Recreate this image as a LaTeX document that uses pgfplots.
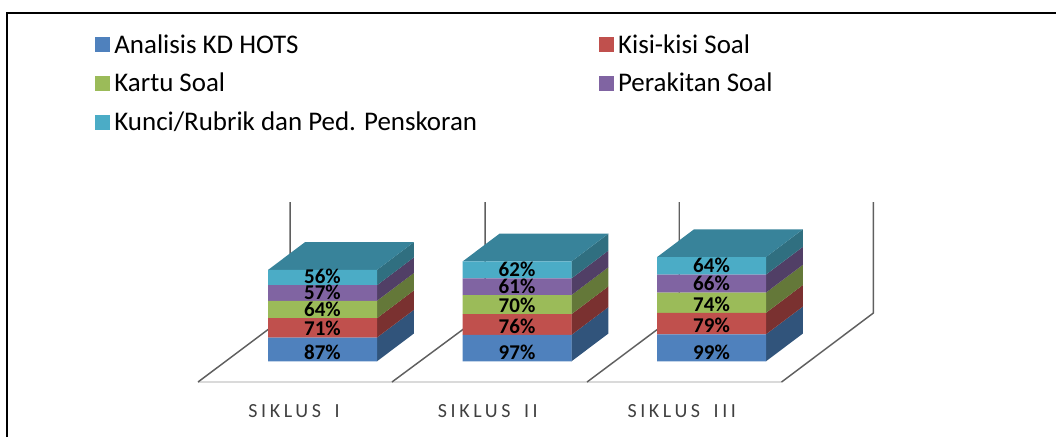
\documentclass[border=0pt]{standalone}
\usepackage{fontspec}
\usepackage{pgfplots}
\pgfplotsset{compat=1.18}
\setmainfont{Carlito}
\newfontfamily\spaced[LetterSpace=18]{Carlito}
\definecolor{cB}{HTML}{4F81BD}\definecolor{cR}{HTML}{C0504D}\definecolor{cG}{HTML}{9BBB59}\definecolor{cP}{HTML}{8064A2}\definecolor{cT}{HTML}{4BACC6}
\definecolor{sB}{HTML}{31547B}\definecolor{sR}{HTML}{7A3130}\definecolor{sG}{HTML}{647839}\definecolor{sP}{HTML}{513F66}\definecolor{sT}{HTML}{306F80}\definecolor{tT}{HTML}{38839A}
\definecolor{wall}{HTML}{5F5F5F}\definecolor{floorc}{HTML}{DADADA}
\pgfplotsset{canvas/.style={
  at={(0,0)},anchor=south west,scale only axis,width=792pt,height=327.75pt,
  xmin=-1.658,xmax=3.771,ymin=-277.6,ymax=1324.9,clip=false,
  axis line style={draw=none},major tick length=0pt,ytick=\empty}}
\begin{document}
\begin{tikzpicture}
\useasboundingbox (0,0) rectangle (792pt,327.75pt);
\begin{axis}[canvas,
  xtick={-0.1465,0.85,1.847},
  xticklabels={SIKLUS\ \kern4pt I,SIKLUS\ \kern4pt II,SIKLUS\ \kern4pt III},
  x tick label style={font=\spaced\fontsize{15}{15}\selectfont,text=black!75,anchor=center,yshift=19.5pt}]
% frame
\addplot[black,line width=1.4pt] coordinates {(-1.621,-277.6)(-1.621,1277)(3.771,1277)};
% floor
\addplot[floorc,line width=1.1pt] coordinates {(-0.64,-76)(2.36,-76)};
\addplot[wall,line width=1.1pt] coordinates {(-0.64,-76)(-0.167,177)(-0.167,584)};
\addplot[wall,line width=1.1pt] coordinates {(0.357,-76)(0.836,177)(0.836,584)};
\addplot[wall,line width=1.1pt] coordinates {(1.36,-76)(1.834,177)(1.834,584)};
\addplot[wall,line width=1.1pt] coordinates {(2.36,-76)(2.832,177)(2.832,584)};
% side faces, Siklus I
\addplot[fill=sB,draw=none] coordinates {(.28,0)(.47,102)(.47,189)(.28,87)} --cycle;
\addplot[fill=sR,draw=none] coordinates {(.28,87)(.47,189)(.47,260)(.28,158)} --cycle;
\addplot[fill=sG,draw=none] coordinates {(.28,158)(.47,260)(.47,324)(.28,222)} --cycle;
\addplot[fill=sP,draw=none] coordinates {(.28,222)(.47,324)(.47,381)(.28,279)} --cycle;
\addplot[fill=sT,draw=none] coordinates {(.28,279)(.47,381)(.47,437)(.28,335)} --cycle;
\addplot[fill=tT,draw=none] coordinates {(-.28,335)(.28,335)(.47,437)(-.09,437)} --cycle;
% Siklus II
\addplot[fill=sB,draw=none] coordinates {(1.28,0)(1.47,102)(1.47,199)(1.28,97)} --cycle;
\addplot[fill=sR,draw=none] coordinates {(1.28,97)(1.47,199)(1.47,275)(1.28,173)} --cycle;
\addplot[fill=sG,draw=none] coordinates {(1.28,173)(1.47,275)(1.47,345)(1.28,243)} --cycle;
\addplot[fill=sP,draw=none] coordinates {(1.28,243)(1.47,345)(1.47,406)(1.28,304)} --cycle;
\addplot[fill=sT,draw=none] coordinates {(1.28,304)(1.47,406)(1.47,468)(1.28,366)} --cycle;
\addplot[fill=tT,draw=none] coordinates {(.72,366)(1.28,366)(1.47,468)(.91,468)} --cycle;
% Siklus III
\addplot[fill=sB,draw=none] coordinates {(2.28,0)(2.47,102)(2.47,201)(2.28,99)} --cycle;
\addplot[fill=sR,draw=none] coordinates {(2.28,99)(2.47,201)(2.47,280)(2.28,178)} --cycle;
\addplot[fill=sG,draw=none] coordinates {(2.28,178)(2.47,280)(2.47,354)(2.28,252)} --cycle;
\addplot[fill=sP,draw=none] coordinates {(2.28,252)(2.47,354)(2.47,420)(2.28,318)} --cycle;
\addplot[fill=sT,draw=none] coordinates {(2.28,318)(2.47,420)(2.47,484)(2.28,382)} --cycle;
\addplot[fill=tT,draw=none] coordinates {(1.72,382)(2.28,382)(2.47,484)(1.91,484)} --cycle;
\end{axis}
\begin{axis}[canvas,xtick=\empty,
  ybar stacked,bar width=81.75pt,
  visualization depends on={rawy \as \rawy},
  nodes near coords={\pgfmathprintnumber[assume math mode=true]{\rawy}\%},
  every node near coord/.style={anchor=center,font=\bfseries\fontsize{15.75}{15.75}\selectfont,text=black,
     yshift={-0.5*\rawy*0.2727*0.75pt+6.6pt}},
  legend columns=2,
  legend cell align=left,
  legend style={draw=none,fill=none,at={(axis cs:-1.169,1209)},anchor=north west,
    font=\fontsize{20.2}{20.2}\selectfont,row sep=9.5pt,inner sep=0pt,
    /tikz/every even column/.append style={column sep=88.5pt},
    nodes={inner xsep=3pt}},
  legend image code/.code={\fill[#1,draw=none] (0pt,-5.6pt) rectangle (11.25pt,5.6pt);}]
\addplot[fill=cB,draw=none] coordinates {(0,87)(1,97)(2,99)};
\addplot[fill=cR,draw=none] coordinates {(0,71)(1,76)(2,79)};
\addplot[fill=cG,draw=none] coordinates {(0,64)(1,70)(2,74)};
\addplot[fill=cP,draw=none] coordinates {(0,57)(1,61)(2,66)};
\addplot[fill=cT,draw=none] coordinates {(0,56)(1,62)(2,64)};
\legend{Analisis KD HOTS,Kisi-kisi Soal,Kartu Soal,Perakitan Soal,Kunci/Rubrik dan Ped. Penskoran}
\end{axis}
\end{tikzpicture}
\end{document}
